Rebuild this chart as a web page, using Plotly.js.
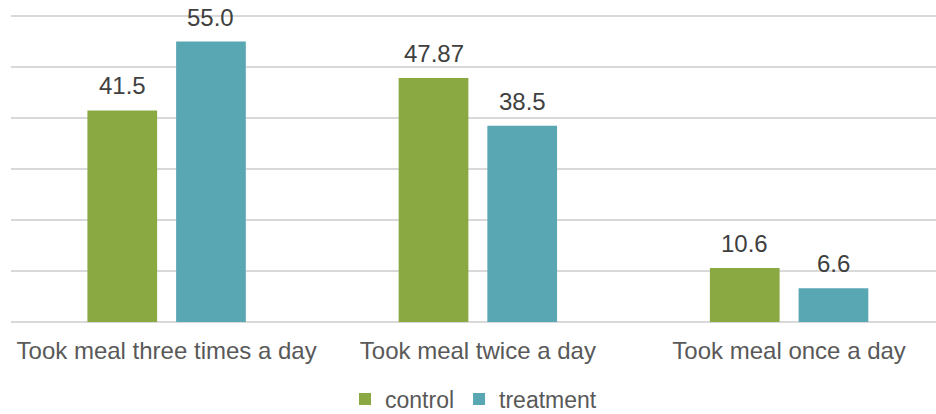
<!DOCTYPE html>
<html>
<head>
<meta charset="utf-8">
<script src="https://cdn.plot.ly/plotly-3.0.1.min.js"></script>
<style>html,body{margin:0;padding:0;background:#fff;}#chart{width:936px;height:414px;}</style>
</head>
<body>
<div id="chart"></div>
<script>
const categories = ["Took meal three times a day", "Took meal twice a day", "Took meal once a day"];
const controlValues = [41.5, 47.87, 10.6];
const treatmentValues = [55.0, 38.5, 6.6];
const controlLabels = ["41.5", "47.87", "10.6"];
const treatmentLabels = ["55.0", "38.5", "6.6"];
const seriesNames = ["control", "treatment"];

const FONT = "Liberation Sans, Arial, sans-serif";
const GREEN = "#8BA942";
const TEAL = "#5AA7B4";

const traces = [
  {type: "bar", name: seriesNames[0], x: categories, y: controlValues,
   marker: {color: GREEN}, hoverinfo: "skip"},
  {type: "bar", name: seriesNames[1], x: categories, y: treatmentValues,
   marker: {color: TEAL}, hoverinfo: "skip"}
];

const shift = 44.35;
const annotations = [];
categories.forEach((c, i) => {
  annotations.push({x: c, y: controlValues[i], xref: "x", yref: "y", text: controlLabels[i],
    showarrow: false, yanchor: "bottom", xshift: -shift, yshift: 9,
    font: {family: FONT, size: 24, color: "#404040"}});
  annotations.push({x: c, y: treatmentValues[i], xref: "x", yref: "y", text: treatmentLabels[i],
    showarrow: false, yanchor: "bottom", xshift: shift, yshift: 9,
    font: {family: FONT, size: 24, color: "#404040"}});
});

const layout = {
  width: 936, height: 414,
  margin: {l: 11, r: 0, t: 14, b: 92, pad: 0, autoexpand: false},
  paper_bgcolor: "#fff", plot_bgcolor: "#fff",
  barmode: "group", bargap: 0.43, bargroupgap: 0.214,
  font: {family: FONT, size: 23, color: "#595959"},
  xaxis: {type: "category", range: [-0.5, 2.472], showgrid: false, showline: false,
    ticks: "", ticklabelstandoff: 12, automargin: false,
    tickfont: {family: FONT, size: 24, color: "#595959"}, fixedrange: true},
  yaxis: {range: [0, 60.4], dtick: 10, showticklabels: false, ticks: "", automargin: false,
    gridcolor: "#d9d9d9", gridwidth: 1.3, zeroline: true, zerolinecolor: "#d9d9d9",
    zerolinewidth: 1.3, showline: false, fixedrange: true},
  showlegend: true,
  legend: {orientation: "h", x: 0.5, xanchor: "center", y: -0.25, yanchor: "middle",
    font: {family: FONT, size: 23, color: "#595959"}, traceorder: "normal"},
  annotations: annotations
};

Plotly.newPlot("chart", traces, layout, {displayModeBar: false, staticPlot: true});
</script>
</body>
</html>
